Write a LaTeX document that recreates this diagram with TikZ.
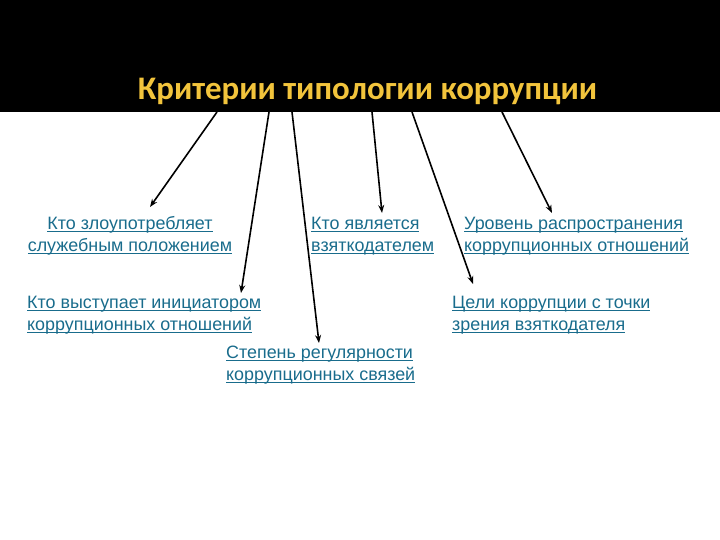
\documentclass[tikz,border=0pt]{standalone}
\usepackage{fontspec}
\setmainfont{Liberation Sans}
\newfontfamily\titlefont{Carlito}
\usetikzlibrary{arrows.meta}
\definecolor{linkteal}{RGB}{25,108,140}
\definecolor{titlegold}{RGB}{242,196,60}
\newcommand\myul[1]{\setbox0\hbox{#1}\rlap{\rule[-2.4pt]{\wd0}{1.1pt}}\box0}
\newcommand\topln{\rule{0pt}{13pt}}
\begin{document}
\begin{tikzpicture}[x=1pt,y=-1pt,
  crit/.style={inner sep=0pt, text=linkteal, font=\fontsize{17.9}{22}\selectfont},
  arr/.style={line width=1.6pt, -{Stealth[length=8pt,width=6pt]}}]
\useasboundingbox (0,0) rectangle (720,540);
\fill[black] (0,0) rectangle (720,112);
\node[anchor=base, text=titlegold, font=\titlefont\bfseries\fontsize{32.9}{38}\selectfont, inner sep=0pt] (title) at (367.5,100) {Критерии типологии коррупции};
% start points on the band
\coordinate (s1) at (217,112);
\coordinate (s2) at (269,112);
\coordinate (s3) at (292,112);
\coordinate (s4) at (372,112);
\coordinate (s5) at (412,112);
\coordinate (s6) at (502,112);
% text blocks
\node[crit, anchor=north, align=center] (n1) at (130,216) {\topln\myul{Кто злоупотребляет}\\\myul{служебным положением}};
\node[crit, anchor=north west, align=left] (n2) at (311,216) {\topln\myul{Кто является}\\\myul{взяткодателем}};
\node[crit, anchor=north west, align=left] (n3) at (464,216) {\topln\myul{Уровень распространения}\\\myul{коррупционных отношений}};
\node[crit, anchor=north west, align=left] (n4) at (27,295) {\topln\myul{Кто выступает инициатором}\\\myul{коррупционных отношений}};
\node[crit, anchor=north west, align=left] (n5) at (452,295) {\topln\myul{Цели коррупции с точки}\\\myul{зрения взяткодателя}};
\node[crit, anchor=north west, align=left] (n6) at (226,345) {\topln\myul{Степень регулярности}\\\myul{коррупционных связей}};
% arrow tips
\coordinate (t1) at (150,207);
\coordinate (t2) at (241,293);
\coordinate (t3) at (319,343);
\coordinate (t4) at (382,213);
\coordinate (t5) at (473,284);
\coordinate (t6) at (552,213);
\draw[arr] (s1) -- (t1);
\draw[arr] (s2) -- (t2);
\draw[arr] (s3) -- (t3);
\draw[arr] (s4) -- (t4);
\draw[arr] (s5) -- (t5);
\draw[arr] (s6) -- (t6);
\end{tikzpicture}
\end{document}
